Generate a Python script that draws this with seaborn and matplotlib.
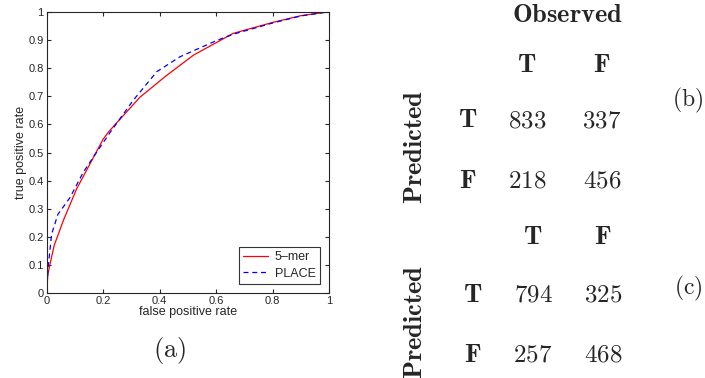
import pandas as pd
import matplotlib
matplotlib.use('Agg')
import matplotlib.pyplot as plt
import seaborn as sns

# ROC curves
fpr_kmer = [0.0, 0.005, 0.027, 0.06, 0.106, 0.2, 0.22, 0.33, 0.42, 0.52, 0.6, 0.66, 0.8, 0.9, 1.0]
tpr_kmer = [0.0, 0.07, 0.17, 0.26, 0.37, 0.547, 0.574, 0.696, 0.77, 0.846, 0.89, 0.923, 0.962, 0.986, 1.0]
fpr_place = [0.0, 0.006, 0.018, 0.04, 0.083, 0.13, 0.19, 0.224, 0.307, 0.39, 0.472, 0.6, 0.66, 0.8, 0.9, 1.0]
tpr_place = [0.0, 0.095, 0.21, 0.28, 0.34, 0.43, 0.52, 0.57, 0.686, 0.787, 0.84, 0.897, 0.92, 0.96, 0.985, 1.0]

# confusion matrices
labels_tf = ['T', 'F']
conf_b = [[833, 337], [218, 456]]
conf_c = [[794, 325], [257, 468]]

sns.set_style('ticks')
plt.rcParams['font.family'] = ['Liberation Sans', 'DejaVu Sans']
plt.rcParams['mathtext.fontset'] = 'cm'

roc = pd.concat([
    pd.DataFrame({'fpr': fpr_kmer, 'tpr': tpr_kmer, 'model': '5\u2013mer'}),
    pd.DataFrame({'fpr': fpr_place, 'tpr': tpr_place, 'model': 'PLACE'}),
])

fig = plt.figure(figsize=(7.05, 3.78), dpi=100)
ax = fig.add_axes([0.066, 0.224, 0.401, 0.745])
sns.lineplot(data=roc, x='fpr', y='tpr', hue='model', style='model', sort=False,
             palette={'5\u2013mer': 'red', 'PLACE': 'blue'},
             dashes={'5\u2013mer': '', 'PLACE': (4, 3)}, linewidth=0.9, ax=ax)
ax.set_xlim(0, 1)
ax.set_ylim(0, 1)
ax.set_xticks([0, 0.2, 0.4, 0.6, 0.8, 1])
ax.set_xticklabels(['0', '0.2', '0.4', '0.6', '0.8', '1'])
ax.set_yticks([i / 10 for i in range(11)])
ax.set_yticklabels(['0'] + ['%.1f' % (i / 10) for i in range(1, 10)] + ['1'])
ax.tick_params(direction='in', length=3, labelsize=8, pad=2, top=True, right=True)
ax.set_xlabel('false positive rate', fontsize=9, labelpad=0)
ax.set_ylabel('true positive rate', fontsize=9, labelpad=1)
for s in ax.spines.values():
    s.set_linewidth(0.8)
leg = ax.legend(loc='lower right', fontsize=9, frameon=True, fancybox=False,
                edgecolor='black', handlelength=2.0, handletextpad=0.5,
                borderpad=0.35, labelspacing=0.35, borderaxespad=0.75)
leg.get_frame().set_linewidth(0.8)


def t(x, y, s, **kw):
    fig.text(x / 705, 1 - y / 378, s, ha='center', va='center', **kw)


# caption of the ROC panel
t(170, 350, r'$\mathrm{(a)}$', fontsize=19)

t(567, 15, r'$\mathbf{Observed}$', fontsize=19)


def table(vals, y_head, y_rows, x_lab, x_cols, y_pred, tag, y_tag):
    for lab, xc in zip(labels_tf, x_cols):
        t(xc, y_head, r'$\mathbf{%s}$' % lab, fontsize=19)
    for i, (lab, yr) in enumerate(zip(labels_tf, y_rows)):
        t(x_lab, yr, r'$\mathbf{%s}$' % lab, fontsize=19)
        for j, xc in enumerate(x_cols):
            t(xc, yr, r'$%d$' % vals[i][j], fontsize=18)
    t(415, y_pred, r'$\mathbf{Predicted}$', fontsize=19, rotation=90)
    t(688, y_tag, r'$\mathrm{(%s)}$' % tag, fontsize=17)


table(conf_b, 65, [120, 181], 468, [527, 602], 147, 'b', 100)
table(conf_c, 237, [295, 355], 473, [533, 603], 322, 'c', 288)

fig.savefig('out.png', dpi=100)
